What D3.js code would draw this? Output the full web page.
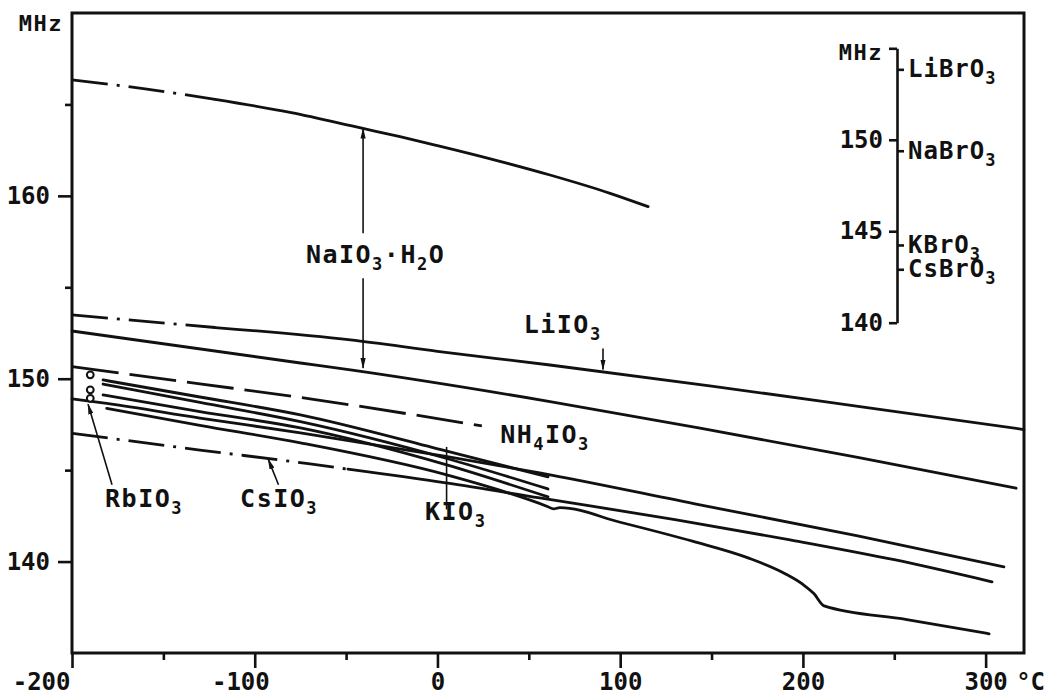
<!DOCTYPE html>
<html>
<head>
<meta charset="utf-8">
<script src="https://cdn.jsdelivr.net/npm/d3@7"></script>
<style>
body { margin: 0; background: #fff; }
svg { display: block; }
.frame { fill: none; stroke: #111; stroke-width: 3; }
.curve { fill: none; stroke: #111; stroke-width: 2.8; stroke-linecap: round; stroke-linejoin: round; }
.dashdot { stroke-dasharray: 36 9 3 9; stroke-linecap: butt; }
.dashed { stroke-dasharray: 47 11; stroke-linecap: butt; }
.axis path.domain { display: none; }
.axis line, .inset path.domain, .inset line { stroke: #111; stroke-width: 2.6; }
.guide { fill: none; stroke: #111; stroke-width: 1.6; }
text { font-family: "DejaVu Sans Mono", monospace; font-weight: bold; fill: #111; font-size: 24px; }
.label { font-size: 25px; letter-spacing: 1.5px; }
.small { font-size: 24px; letter-spacing: 1px; }
.unit { font-size: 22px; letter-spacing: 1.5px; }
</style>
</head>
<body>
<script>
//temperature in °C, NQR frequency in MHz
var naioUpper = [[-200,166.34],[-160,165.85],[-121.7,165.28],[-80,164.55],[-41.4,163.7],[-20.5,163.24],[0,162.75],[30,162.0],[61.6,161.14],[94.5,160.14],[115.3,159.41]];
var naioLower = [[-200,152.61],[-75,150.86],[-47.6,150.48],[61.6,148.75],[143.7,147.3],[230,145.7],[316.7,144.01]];
var liio = [[-200,153.49],[-121.7,152.8],[-47.6,152.12],[0,151.5],[61.6,150.75],[150,149.6],[240,148.35],[321,147.22]];
var nh4io = [[-200,150.66],[-130,149.72],[-69.7,148.9],[24.3,147.42]];
var kio1 = [[-183,149.93],[-130,149.0],[-75,148.02],[4.6,146.05],[60.5,144.63]];
var kio2 = [[-183,149.71],[-130,148.7],[-75,147.65],[4.6,145.65],[60.5,143.97]];
var kio3 = [[-183,149.11],[-130,148.2],[-75,147.31],[4.6,145.3],[60.5,143.54]];
var kio4 = [[-181,148.38],[-130,147.45],[-75,146.49],[4.6,144.75],[60.5,143.0],[63.5,142.88],[67,142.95],[100,142.15],[140,141.1],[170,140.2],[190,139.35],[200,138.75],[206,138.25],[211.6,137.58],[256.9,136.83],[301.9,136.05]];
var highLine = [[-200,148.9],[-181,148.65],[-130,147.85],[-75,147.04],[4.6,145.75],[56,144.85],[143.7,143.1],[230,141.4],[310,139.71]];
var csio = [[-200,147.02],[-130,146.1],[-69.7,145.34],[-49,145.05],[4.6,144.3],[56,143.48],[130,142.3],[193,141.19],[250,140.1],[303.5,138.89]];
var rbPoints = [[-190,150.21],[-190,149.39],[-190,148.93]];

//temperature where a dash-dot run turns into a solid line
var naioSolidFrom = -121.7,
    liioSolidFrom = -121.7,
    csioSolidFrom = -49;

var xMajor = [-200,-100,0,100,200,300],
    xMinor = [-150,-50,50,150,250],
    yMajor = [140,150,160],
    yMinor = [145,155,165];

//bromate inset scale
var insetTicks = [140,145,150,155];
var bromateNames = ["LiBrO_3","NaBrO_3","KBrO_3","CsBrO_3"],
    bromateValues = [153.85,149.4,144.25,142.92];

window.onload = drawChart();

function drawChart(){

    var width = 1061,
        height = 697;

    var svg = d3.select("body")
        .append("svg")
        .attr("width", width)
        .attr("height", height);

    var defs = svg.append("defs");
    defs.append("marker")
        .attr("id", "head")
        .attr("viewBox", "0 -3 11 6")
        .attr("refX", 10)
        .attr("refY", 0)
        .attr("markerUnits", "userSpaceOnUse")
        .attr("markerWidth", 11)
        .attr("markerHeight", 6)
        .attr("orient", "auto")
        .append("path")
        .attr("d", "M0,-2.6L11,0L0,2.6Z")
        .attr("fill", "#111");

    var x = d3.scaleLinear().domain([-200, 321]).range([72, 1024]);
    var y = d3.scaleLinear().domain([135, 170]).range([653, 13]);

    var line = d3.line()
        .x(function(d){ return x(d[0]); })
        .y(function(d){ return y(d[1]); })
        .curve(d3.curveMonotoneX);

    //x axis
    var xAxis = svg.append("g")
        .attr("class", "axis")
        .attr("transform", "translate(0," + y(135) + ")")
        .call(d3.axisBottom(x).tickValues(xMajor).tickSize(15).tickPadding(5)
            .tickFormat(function(d){ return d < 0 ? "-" + (-d) : d; }));
    svg.append("g")
        .attr("class", "axis")
        .attr("transform", "translate(0," + y(135) + ")")
        .call(d3.axisBottom(x).tickValues(xMinor).tickSize(7).tickFormat(""));

    xAxis.selectAll(".tick text")
        .attr("dx", function(d){ return d < 0 ? "-0.6em" : 0; })
        .attr("text-anchor", function(d){ return d === -200 ? "end" : "middle"; })
        .filter(function(d){ return d === -200; })
        .attr("dx", -2);
    xAxis.selectAll(".tick")
        .filter(function(d){ return d === 300; })
        .append("text")
        .attr("x", 30)
        .attr("y", 20)
        .attr("dy", "0.71em")
        .attr("text-anchor", "start")
        .text("°C");

    //y axis
    svg.append("g")
        .attr("class", "axis")
        .attr("transform", "translate(" + x(-200) + ",0)")
        .call(d3.axisLeft(y).tickValues(yMajor).tickSize(14).tickPadding(8));
    svg.append("g")
        .attr("class", "axis")
        .attr("transform", "translate(" + x(-200) + ",0)")
        .call(d3.axisLeft(y).tickValues(yMinor).tickSize(7).tickFormat(""));

    svg.append("text")
        .attr("class", "unit")
        .attr("x", x(-200) - 9)
        .attr("y", y(170) + 18)
        .attr("text-anchor", "end")
        .text("MHz");

    //frame
    svg.append("rect")
        .attr("class", "frame")
        .attr("x", x(-200))
        .attr("y", y(170))
        .attr("width", x(321) - x(-200))
        .attr("height", y(135) - y(170));

    //curves
    function drawSplit(data, from){
        svg.append("path")
            .datum(data.filter(function(d){ return d[0] <= from; }))
            .attr("class", "curve dashdot")
            .attr("d", line);
        svg.append("path")
            .datum(data.filter(function(d){ return d[0] >= from; }))
            .attr("class", "curve")
            .attr("d", line);
    }
    drawSplit(naioUpper, naioSolidFrom);
    drawSplit(liio, liioSolidFrom);
    drawSplit(csio, csioSolidFrom);

    svg.selectAll(".solid")
        .data([naioLower, kio1, kio2, kio3, kio4, highLine])
        .enter()
        .append("path")
        .attr("class", "curve solid")
        .attr("d", line);

    svg.append("path")
        .datum(nh4io)
        .attr("class", "curve dashed")
        .attr("d", line);

    svg.selectAll(".rb")
        .data(rbPoints)
        .enter()
        .append("circle")
        .attr("class", "rb")
        .attr("cx", function(d){ return x(d[0]); })
        .attr("cy", function(d){ return y(d[1]); })
        .attr("r", 3.4)
        .attr("fill", "#fff")
        .attr("stroke", "#111")
        .attr("stroke-width", 2);

    //formula text, "_" marks a subscript character
    function formula(g, str, px, py, cls){
        var t = g.append("text")
            .attr("class", cls)
            .attr("x", px)
            .attr("y", py);
        var parts = str.split(/(_.)/).filter(function(s){ return s.length; });
        var low = false;
        parts.forEach(function(p){
            if (p[0] === "_") {
                t.append("tspan").attr("dy", 7).attr("font-size", "17px").text(p[1]);
                low = true;
            } else {
                t.append("tspan").attr("dy", low ? -7 : 0).text(p);
                low = false;
            }
        });
        return t;
    }

    function guide(t1, v1, t2, v2, arrow){
        var p = svg.append("line")
            .attr("class", "guide")
            .attr("x1", x(t1)).attr("y1", y(v1))
            .attr("x2", x(t2)).attr("y2", y(v2));
        if (arrow) p.attr("marker-end", "url(#head)");
    }

    //labels and arrows
    formula(svg, "NaIO_3·H_2O", x(-72), y(156.33), "label");
    guide(-40.7, 157.95, -40.7, 163.68, true);
    guide(-40.7, 155.5, -40.7, 150.58, true);

    formula(svg, "LiIO_3", x(47.2), y(152.5), "label");
    guide(90.6, 151.65, 90.6, 150.5, true);

    formula(svg, "NH_4IO_3", x(34.3), y(146.5), "label");

    formula(svg, "KIO_3", x(-6.8), y(142.25), "label");
    guide(5, 142.85, 5, 146.27, false);

    formula(svg, "CsIO_3", x(-108), y(143.0), "label");
    guide(-87, 144.2, -92.6, 145.6, true);

    formula(svg, "RbIO_3", x(-181.9), y(143.0), "label");
    guide(-178.1, 144.2, -191.2, 148.6, true);

    //bromate inset axis
    var yIn = d3.scaleLinear().domain([140, 155]).range([322.7, 48.3]);
    var inX = 897;

    var inL = svg.append("g")
        .attr("class", "inset")
        .attr("transform", "translate(" + inX + ",0)")
        .call(d3.axisLeft(yIn).tickValues(insetTicks).tickSize(8).tickSizeOuter(0).tickPadding(6)
            .tickFormat(function(d){ return d === 155 ? "MHz" : d; }));
    inL.selectAll(".tick text")
        .filter(function(d){ return d === 155; })
        .attr("class", "unit")
        .attr("dy", "0.5em");

    var inR = svg.append("g")
        .attr("class", "inset")
        .attr("transform", "translate(" + inX + ",0)")
        .call(d3.axisRight(yIn).tickValues(bromateValues).tickSize(7).tickSizeOuter(0).tickFormat(""));
    inR.select("path.domain").remove();

    bromateNames.forEach(function(n, i){
        formula(svg, n, inX + 11, yIn(bromateValues[i]) + 8, "small");
    });
}
</script>
</body>
</html>
